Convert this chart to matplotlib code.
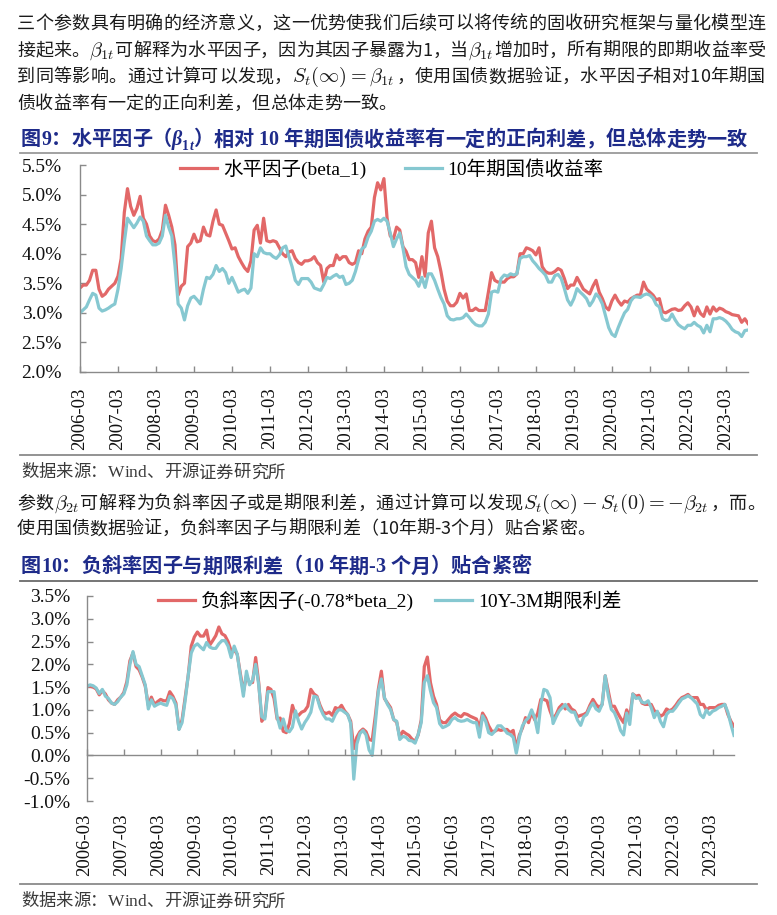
import numpy as np
import pandas as pd
import matplotlib
matplotlib.use("Agg")
import matplotlib.pyplot as plt
from matplotlib.font_manager import FontProperties, findfont, get_font
from matplotlib.ticker import FuncFormatter
from matplotlib.lines import Line2D

# ---------------- data ----------------
months = pd.period_range("2006-03", periods=212, freq="M")
tick_labels = [str(p) for p in months[::12]]

# Figure 9: level factor (beta_1) vs 10Y CGB yield, %
level_factor = [
    3.42, 3.47, 3.47, 3.55, 3.72, 3.72, 3.40, 3.28, 3.32, 3.40, 3.45, 3.50,
    3.62, 3.92, 4.70, 5.10, 4.80, 4.65, 4.77, 4.97, 4.60, 4.50, 4.30, 4.22,
    4.20, 4.25, 4.40, 4.82, 4.65, 4.45, 4.15, 3.30, 3.45, 3.50, 4.12, 4.18,
    4.33, 4.20, 4.22, 4.45, 4.32, 4.30, 4.55, 4.74, 4.50, 4.48, 4.35, 4.22,
    4.08, 4.10, 3.95, 3.85, 3.76, 3.70, 3.88, 4.40, 4.48, 4.18, 4.60, 4.22,
    4.20, 4.22, 4.20, 4.10, 4.00, 3.95, 4.03, 4.05, 3.92, 3.85, 3.82, 3.88,
    3.88, 3.90, 3.95, 3.85, 3.80, 3.52, 3.75, 3.80, 3.80, 3.98, 3.90, 3.95,
    3.95, 3.85, 3.82, 3.85, 4.05, 4.00, 4.25, 4.38, 4.45, 4.95, 5.20, 5.08,
    5.27, 4.60, 4.30, 4.25, 4.45, 4.40, 4.12, 4.04, 3.90, 3.90, 3.85, 3.60,
    3.95, 3.62, 4.35, 4.55, 4.10, 3.95, 3.70, 3.40, 3.20, 3.12, 3.12, 3.18,
    3.33, 3.25, 3.32, 3.04, 3.04, 3.08, 3.04, 3.04, 3.04, 3.35, 3.68, 3.55,
    3.52, 3.52, 3.52, 3.58, 3.61, 3.61, 3.66, 4.00, 4.00, 4.10, 4.08, 4.05,
    3.98, 4.10, 3.78, 3.70, 3.67, 3.67, 3.70, 3.75, 3.72, 3.58, 3.41, 3.47,
    3.47, 3.60, 3.50, 3.40, 3.36, 3.32, 3.45, 3.55, 3.35, 3.24, 3.10, 3.05,
    3.20, 3.30, 3.20, 3.13, 3.20, 3.18, 3.24, 3.27, 3.30, 3.30, 3.52, 3.40,
    3.35, 3.30, 3.22, 3.24, 3.02, 3.00, 3.03, 3.06, 3.07, 3.04, 3.05, 3.12,
    3.17, 3.10, 2.95, 3.10, 2.99, 2.94, 3.10, 2.98, 3.10, 3.03, 3.08, 3.06,
    3.02, 3.00, 2.97, 2.96, 2.95, 2.84, 2.90, 2.82,
]
cgb_10y = [
    3.00, 3.05, 3.10, 3.22, 3.33, 3.30, 3.08, 3.03, 3.05, 3.08, 3.12, 3.15,
    3.40, 3.75, 4.20, 4.60, 4.52, 4.44, 4.52, 4.62, 4.55, 4.30, 4.22, 4.15,
    4.15, 4.18, 4.30, 4.65, 4.45, 4.30, 3.80, 3.15, 3.08, 2.88, 3.12, 3.25,
    3.28, 3.22, 3.15, 3.40, 3.60, 3.58, 3.65, 3.80, 3.70, 3.75, 3.68, 3.50,
    3.60, 3.48, 3.35, 3.38, 3.40, 3.33, 3.42, 4.00, 3.95, 4.10, 4.02, 4.00,
    4.00, 3.95, 3.92, 3.98, 4.10, 4.13, 3.95, 3.78, 3.55, 3.48, 3.58, 3.58,
    3.58, 3.52, 3.42, 3.40, 3.38, 3.48, 3.60, 3.58, 3.62, 3.65, 3.60, 3.62,
    3.48, 3.50, 3.55, 3.70, 3.90, 4.08, 4.12, 4.28, 4.38, 4.55, 4.58, 4.55,
    4.60, 4.55, 4.35, 4.12, 4.25, 4.35, 4.10, 3.78, 3.65, 3.60, 3.55, 3.45,
    3.60, 3.43, 3.66, 3.66, 3.55, 3.40, 3.26, 3.15, 2.95, 2.89, 2.88, 2.90,
    2.90, 2.92, 2.98, 2.92, 2.85, 2.80, 2.78, 2.78, 2.84, 2.98, 3.35, 3.37,
    3.35, 3.58, 3.64, 3.62, 3.66, 3.64, 3.66, 3.92, 3.95, 3.95, 3.97, 3.88,
    3.82, 3.75, 3.70, 3.64, 3.52, 3.52, 3.63, 3.65, 3.58, 3.41, 3.22, 3.13,
    3.24, 3.41, 3.35, 3.30, 3.24, 3.12, 3.20, 3.32, 3.26, 3.15, 2.95, 2.75,
    2.64, 2.60, 2.75, 2.88, 3.00, 3.06, 3.20, 3.27, 3.27, 3.26, 3.30, 3.32,
    3.30, 3.25, 3.14, 3.10, 2.90, 2.87, 2.88, 2.98, 2.88, 2.80, 2.76, 2.73,
    2.79, 2.79, 2.84, 2.79, 2.76, 2.66, 2.79, 2.68, 2.90, 2.90, 2.92, 2.90,
    2.86, 2.80, 2.72, 2.68, 2.66, 2.60, 2.70, 2.71,
]

# Figure 10: negative slope factor (-0.78*beta_2) vs 10Y-3M term spread, %
slope_factor = [
    1.53, 1.52, 1.50, 1.46, 1.33, 1.42, 1.35, 1.22, 1.15, 1.12, 1.22, 1.28,
    1.38, 1.62, 2.08, 2.25, 1.95, 1.88, 1.72, 1.52, 1.10, 1.28, 1.12, 1.18,
    1.23, 1.20, 1.20, 1.40, 1.30, 1.15, 0.58, 0.78, 1.27, 1.75, 2.40, 2.60,
    2.71, 2.62, 2.62, 2.75, 2.42, 2.52, 2.63, 2.82, 2.67, 2.63, 2.50, 2.30,
    2.32, 2.22, 1.80, 1.40, 1.75, 1.60, 1.60, 2.15, 1.60, 0.75, 0.85, 1.49,
    1.45, 1.25, 0.80, 0.82, 0.53, 0.50, 0.70, 1.10, 0.88, 0.88, 0.95, 0.98,
    1.08, 1.45, 1.35, 1.30, 1.10, 0.95, 0.92, 0.95, 0.88, 1.05, 1.02, 1.10,
    0.98, 0.90, 0.75, 0.15, 0.40, 0.52, 0.58, 0.52, 0.35, 0.33, 0.85, 1.45,
    1.85, 1.25, 1.15, 1.05, 0.79, 0.73, 0.40, 0.53, 0.48, 0.44, 0.36, 0.31,
    0.45, 0.78, 1.95, 2.16, 1.60, 1.30, 1.12, 0.78, 0.72, 0.72, 0.80, 0.88,
    0.93, 0.88, 0.85, 0.92, 0.90, 0.86, 0.83, 0.80, 0.61, 0.93, 0.82, 0.65,
    0.53, 0.53, 0.57, 0.55, 0.57, 0.57, 0.50, 0.55, 0.15, 0.45, 0.60, 0.83,
    0.72, 0.95, 0.78, 0.93, 1.23, 1.23, 1.20, 0.98, 0.80, 0.90, 1.05, 1.12,
    1.02, 1.12, 1.02, 0.98, 0.85, 0.88, 0.90, 0.94, 1.10, 1.23, 1.12, 1.05,
    1.12, 1.75, 1.42, 1.08, 1.08, 0.94, 0.82, 0.72, 1.00, 0.84, 1.35, 1.30,
    1.32, 1.15, 1.12, 1.12, 1.12, 0.98, 0.95, 0.86, 0.90, 1.02, 0.98, 1.02,
    1.10, 1.20, 1.27, 1.30, 1.34, 1.27, 1.27, 1.27, 1.12, 1.12, 1.00, 1.05,
    1.05, 1.05, 1.10, 1.12, 1.12, 0.90, 0.75, 0.64,
]
term_spread = [
    1.52, 1.55, 1.53, 1.48, 1.36, 1.45, 1.30, 1.25, 1.15, 1.12, 1.18, 1.28,
    1.35, 1.55, 2.00, 2.28, 2.00, 1.95, 1.75, 1.55, 1.02, 1.22, 1.08, 1.12,
    1.15, 1.12, 1.10, 1.30, 1.25, 1.10, 0.57, 0.72, 1.20, 1.75, 2.25, 2.40,
    2.45, 2.38, 2.32, 2.48, 2.38, 2.35, 2.35, 2.45, 2.52, 2.52, 2.40, 2.15,
    2.40, 2.22, 1.75, 1.30, 1.85, 1.55, 1.65, 2.00, 1.55, 0.85, 0.80, 1.40,
    1.40, 1.40, 0.85, 0.60, 0.80, 0.55, 0.52, 0.62, 0.98, 0.75, 0.58, 0.72,
    0.82, 0.95, 1.30, 1.28, 1.05, 0.90, 0.80, 0.80, 0.75, 0.90, 1.00, 1.00,
    0.95, 0.90, 0.70, -0.52, 0.25, 0.48, 0.55, 0.45, 0.12, 0.00, 0.68, 1.40,
    1.68, 1.27, 1.12, 1.01, 0.79, 0.75, 0.35, 0.42, 0.40, 0.33, 0.32, 0.27,
    0.46, 0.72, 1.60, 1.75, 1.42, 1.16, 1.05, 0.70, 0.61, 0.64, 0.68, 0.79,
    0.83, 0.77, 0.75, 0.76, 0.79, 0.75, 0.72, 0.72, 0.40, 0.87, 0.75, 0.50,
    0.46, 0.53, 0.65, 0.65, 0.58, 0.49, 0.46, 0.40, 0.05, 0.40, 0.65, 0.76,
    0.83, 1.00, 0.83, 0.50, 1.12, 1.45, 1.42, 1.27, 0.70, 0.85, 0.98, 1.05,
    1.12, 1.01, 0.95, 0.95, 0.77, 0.66, 0.85, 0.90, 1.05, 1.15, 1.02, 0.97,
    1.12, 1.75, 1.31, 1.01, 0.94, 0.77, 0.55, 0.45, 0.93, 0.68, 1.35, 1.25,
    1.27, 1.17, 1.15, 1.20, 1.05, 0.83, 0.97, 0.75, 0.63, 0.90, 0.97, 0.97,
    1.05, 1.15, 1.24, 1.27, 1.31, 1.27, 1.20, 1.13, 0.90, 0.83, 1.00, 0.90,
    0.97, 1.00, 1.05, 1.08, 1.12, 0.95, 0.68, 0.44,
]

fig9_title = ["图9：水平因子（",
              {"text": "β", "fam": "Liberation Serif", "style": "italic"},
              {"text": "1", "fam": "Liberation Serif", "scale": 0.68, "dy": 5},
              {"text": "t", "fam": "Liberation Serif", "style": "italic", "scale": 0.68, "dy": 5},
              "）相对 10 年期国债收益率有一定的正向利差，但总体走势一致"]
fig10_title = ["图10：负斜率因子与期限利差（10 年期-3 个月）贴合紧密"]
legend9 = ["水平因子(beta_1)", "10年期国债收益率"]
legend10 = ["负斜率因子(-0.78*beta_2)", "10Y-3M期限利差"]
source_text = "数据来源：Wind、开源证券研究所"

para1 = [
    ["三个参数具有明确的经济意义，这一优势使我们后续可以将传统的固收研究框架与量化模型连"],
    ["接起来。", r"$\beta_{1t}$", "可解释为水平因子，因为其因子暴露为1，当", r"$\beta_{1t}$",
     "增加时，所有期限的即期收益率受"],
    ["到同等影响。通过计算可以发现，", r"$S_t(\infty)=\beta_{1t}$",
     "，使用国债数据验证，水平因子相对10年期国"],
    ["债收益率有一定的正向利差，但总体走势一致。"],
]
para2 = [
    ["参数", r"$\beta_{2t}$", "可解释为负斜率因子或是期限利差，通过计算可以发现",
     r"$S_t(\infty)-S_t(0)=-\beta_{2t}$", "，而。"],
    ["使用国债数据验证，负斜率因子与期限利差（10年期-3个月）贴合紧密。"],
]

# ---------------- style ----------------
W, H = 777, 915
CJK = "Noto Sans CJK SC"
SERIF = "Liberation Serif"
RED = "#E26868"
CYAN = "#86C8D1"
NAVY = "#1E2B8A"
AXGRAY = "#8A8A8A"
plt.rcParams["mathtext.fontset"] = "cm"

fig = plt.figure(figsize=(W / 100, H / 100), dpi=100)
fig.patch.set_facecolor("white")
renderer = fig.canvas.get_renderer()


def fx(px):
    return px / W


def fy(py):
    return 1 - py / H


def _raw_adv(ch, fam, weight, style, size):
    fp = FontProperties(family=fam, weight=weight, style=style, size=size)
    f = get_font(findfont(fp))
    f.set_size(size, 100)
    return f.load_char(ord(ch)).linearHoriAdvance / 65536.0


_K = (10 * 100 / 72) / _raw_adv("国", CJK, "normal", "normal", 10)


def adv(ch, fam, weight, style, size):
    return _raw_adv(ch, fam, weight, style, size) * _K


def draw_line(x0, yc, parts, size, color, weight="normal", latin=CJK, x1=None,
              math_scale=1.12):
    size_px = size * 100 / 72
    base = yc + 0.37 * size_px
    items = []
    for p in parts:
        if isinstance(p, dict):
            sc = p.get("scale", 1.0)
            fam = p.get("fam", CJK)
            st = p.get("style", "normal")
            for ch in p["text"]:
                t = fig.text(0, 0, ch, family=fam, fontsize=size * sc, weight=weight,
                             style=st, color=color, va="baseline", ha="left")
                items.append((t, adv(ch, fam, weight, st, size * sc), p.get("dy", 0)))
        elif p.startswith("$"):
            t = fig.text(0, 0, p, fontsize=size * math_scale, color=color,
                         va="baseline", ha="left")
            w = t.get_window_extent(renderer).width
            items.append((t, w + 1, 0))
        else:
            for ch in p:
                fam = latin if ord(ch) < 0x2000 else CJK
                t = fig.text(0, 0, ch, family=fam, fontsize=size, weight=weight,
                             color=color, va="baseline", ha="left")
                items.append((t, adv(ch, fam, weight, "normal", size), 0))
    total = sum(w for _, w, _ in items)
    gap = 0.0
    if x1 is not None and len(items) > 1:
        gap = (x1 - x0 - total) / (len(items) - 1)
    x = x0
    for t, w, dy in items:
        t.set_position((fx(x), fy(base + dy)))
        x += w + gap


def hline(x0, x1, y, color, lw):
    fig.add_artist(Line2D([fx(x0), fx(x1)], [fy(y), fy(y)], transform=fig.transFigure,
                          color=color, lw=lw))


# ---------------- page text ----------------
TEXT = "#1a1a1a"
P_SIZE = 13
for i, (parts, yc) in enumerate(zip(para1, [22, 49, 75.5, 102])):
    draw_line(17, yc, parts, P_SIZE, TEXT, x1=765 if i < 3 else None)
draw_line(17, 502, para2[0], P_SIZE, TEXT, x1=765)
draw_line(17, 527.5, para2[1], P_SIZE, TEXT)

draw_line(21, 138, fig9_title, 14.5, NAVY, weight="bold", latin=SERIF)
hline(20, 757, 153, "#9a9a9a", 1.3)
draw_line(21, 565, fig10_title, 14.5, NAVY, weight="bold", latin=SERIF)
hline(20, 757, 580.5, "#6a6a6a", 1.3)

hline(20, 757, 455, "#8a8a8a", 1.3)
draw_line(21, 471, [source_text], 12.5, "#3a3a3a", latin=SERIF)
hline(20, 757, 884, "#8a8a8a", 1.3)
draw_line(21, 900, [source_text], 12.5, "#3a3a3a", latin=SERIF)

# ---------------- charts ----------------
TICKFONT = FontProperties(family=SERIF, size=14)
LEGFONT = FontProperties(family=[SERIF, CJK], size=14)
pct = FuncFormatter(lambda v, pos: f"{v:.1f}%")
xpos = np.arange(len(months))
tick_pos = xpos[::12]


def style_axes(ax, ypad):
    for s in ["top", "right"]:
        ax.spines[s].set_visible(False)
    for s in ["left", "bottom"]:
        ax.spines[s].set_color(AXGRAY)
        ax.spines[s].set_linewidth(1.0)
    ax.yaxis.set_major_formatter(pct)
    ax.tick_params(axis="both", direction="in", length=4, width=1, color=AXGRAY)
    ax.tick_params(axis="y", pad=ypad, labelcolor="#111111")
    for lab in ax.get_yticklabels():
        lab.set_fontproperties(TICKFONT)
    ax.set_xticks(tick_pos)
    ax.patch.set_alpha(0)


# Figure 9
ax1 = fig.add_axes([fx(80), fy(372), (748 - 80) / W, (372 - 165) / H])
ax1.plot(xpos, level_factor, color=RED, lw=2.3, label=legend9[0], solid_joinstyle="round")
ax1.plot(xpos, cgb_10y, color=CYAN, lw=2.3, label=legend9[1], solid_joinstyle="round")
ax1.set_xlim(0, len(xpos) - 1)
ax1.set_ylim(2.0, 5.5)
ax1.set_yticks(np.arange(2.0, 5.51, 0.5))
style_axes(ax1, 13)
ax1.set_xticklabels(tick_labels, rotation=90, fontproperties=FontProperties(family=SERIF, size=13.5))
ax1.tick_params(axis="x", pad=11, labelcolor="#111111")
ax1.legend(loc="center left", bbox_to_anchor=(fx(180), fy(169)),
           bbox_transform=fig.transFigure, ncol=2, frameon=False, prop=LEGFONT,
           handlelength=1.9, handletextpad=0.3, columnspacing=2.0,
           borderpad=0, borderaxespad=0)

# Figure 10
ax2 = fig.add_axes([fx(87), fy(801), (734 - 87) / W, (801 - 596) / H])
ax2.plot(xpos, slope_factor, color=RED, lw=2.3, label=legend10[0], solid_joinstyle="round")
ax2.plot(xpos, term_spread, color=CYAN, lw=2.3, label=legend10[1], solid_joinstyle="round")
ax2.set_xlim(0, len(xpos) - 1)
ax2.set_ylim(-1.0, 3.5)
ax2.set_yticks(np.arange(-1.0, 3.51, 0.5))
style_axes(ax2, 12)
ax2.spines["bottom"].set_position(("data", 0))
ax2.tick_params(axis="x", labelbottom=False)
for p, lab in zip(tick_pos, tick_labels):
    ax2.annotate(lab, xy=(p, 0), xycoords=("data", "axes fraction"), xytext=(-1.5, -9),
                 textcoords="offset points", rotation=90, ha="center", va="top",
                 fontproperties=FontProperties(family=SERIF, size=13.5), color="#111111")
ax2.legend(loc="center left", bbox_to_anchor=(fx(158), fy(601)),
           bbox_transform=fig.transFigure, ncol=2, frameon=False, prop=LEGFONT,
           handlelength=1.9, handletextpad=0.3, columnspacing=1.1,
           borderpad=0, borderaxespad=0)

fig.savefig("out.png", dpi=100, facecolor="white")
